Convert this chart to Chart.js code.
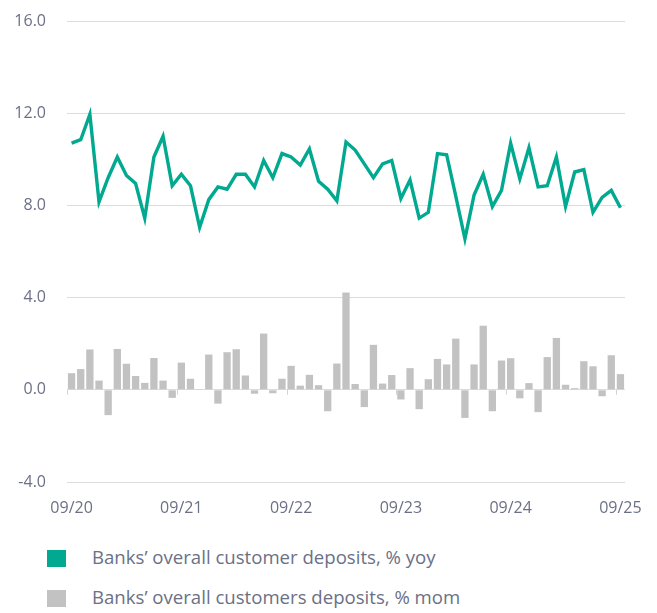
<!DOCTYPE html>
<html>
<head>
<meta charset="utf-8">
<script src="https://cdn.jsdelivr.net/npm/chart.js@4.4.1/dist/chart.umd.min.js"></script>
<style>
  body { margin: 0; background: #fff; font-family: "Open Sans", sans-serif; }
  #wrap { position: relative; width: 657px; height: 613px; }
  #chart { position: absolute; left: 0; top: 0; }
  .leg { position: absolute; left: 47px; height: 20px; color: #6b7086; font-size: 18.6px; line-height: 20px; white-space: nowrap; }
  .leg i { position: absolute; left: 0; top: 1px; width: 19px; height: 17px; }
  .leg span { position: absolute; left: 45px; top: -2px; }
</style>
</head>
<body>
<div id="wrap">
  <canvas id="chart" width="657" height="530"></canvas>
  <div class="leg" style="top:549px"><i style="background:#00a990"></i><span>Banks’ overall customer deposits, % yoy</span></div>
  <div class="leg" style="top:589px"><i style="background:#c2c2c2"></i><span>Banks’ overall customers deposits, % mom</span></div>
</div>
<script>
// months 09/20 .. 09/25
const months = [
    '09/20', '10/20', '11/20', '12/20', '01/21', '02/21', '03/21', '04/21', '05/21', '06/21', '07/21', '08/21',
    '09/21', '10/21', '11/21', '12/21', '01/22', '02/22', '03/22', '04/22', '05/22', '06/22', '07/22', '08/22',
    '09/22', '10/22', '11/22', '12/22', '01/23', '02/23', '03/23', '04/23', '05/23', '06/23', '07/23', '08/23',
    '09/23', '10/23', '11/23', '12/23', '01/24', '02/24', '03/24', '04/24', '05/24', '06/24', '07/24', '08/24',
    '09/24', '10/24', '11/24', '12/24', '01/25', '02/25', '03/25', '04/25', '05/25', '06/25', '07/25', '08/25',
    '09/25'
];

// % yoy
const depositsYoy = [
    10.7, 10.85, 11.95, 8.15, 9.2, 10.1, 9.3, 8.95, 7.45, 10.1, 11.0, 8.85,
    9.35, 8.85, 7.05, 8.25, 8.8, 8.7, 9.35, 9.35, 8.8, 9.95, 9.2, 10.25,
    10.1, 9.75, 10.45, 9.05, 8.7, 8.2, 10.75, 10.4, 9.8, 9.2, 9.8, 9.95,
    8.3, 9.1, 7.45, 7.7, 10.25, 10.2, 8.4, 6.55, 8.45, 9.35, 7.95, 8.65,
    10.7, 9.15, 10.5, 8.8, 8.85, 10.1, 7.95, 9.45, 9.55, 7.7, 8.35, 8.65,
    7.9
];

// % mom
const depositsMom = [
    0.72, 0.9, 1.75, 0.4, -1.1, 1.77, 1.13, 0.6, 0.3, 1.38, 0.4, -0.35,
    1.18, 0.48, 0.03, 1.53, -0.6, 1.63, 1.76, 0.62, -0.17, 2.44, -0.15, 0.48,
    1.04, 0.18, 0.65, 0.2, -0.93, 1.14, 4.22, 0.25, -0.75, 1.95, 0.27, 0.64,
    -0.42, 0.94, -0.84, 0.46, 1.34, 1.1, 2.22, -1.22, 1.1, 2.78, -0.93, 1.27,
    1.37, -0.37, 0.29, -0.97, 1.42, 2.25, 0.22, 0.07, 1.24, 1.02, -0.28, 1.5,
    0.68
];

const yTicks = [-4, 0, 4, 8, 12, 16];

const textColor = '#6b7086';

// little tick marks on the zero line, one per year
const zeroTicks = {
    id: 'zeroTicks',
    beforeDatasetsDraw(chart) {
        const x = chart.scales.x;
        const y0 = chart.scales.y.getPixelForValue(0);
        const half = (x.getPixelForValue(1) - x.getPixelForValue(0)) / 2;
        const c = chart.ctx;
        c.save();
        c.strokeStyle = '#d4d4d4';
        c.lineWidth = 1;
        for (let i = 0; i < months.length; i += 12) {
            const px = Math.round(x.getPixelForValue(i) - half) + 0.5;
            c.beginPath();
            c.moveTo(px, y0);
            c.lineTo(px, y0 + 5);
            c.stroke();
        }
        c.restore();
    }
};

new Chart(document.getElementById('chart'), {
    type: 'bar',
    data: {
        labels: months,
        datasets: [{
            type: 'line',
            label: 'Banks’ overall customer deposits, % yoy',
            data: depositsYoy,
            borderColor: '#00a990',
            borderWidth: 3.4,
            pointRadius: 0,
            tension: 0,
            order: 1
        }, {
            label: 'Banks’ overall customers deposits, % mom',
            data: depositsMom,
            backgroundColor: '#c2c2c2',
            barPercentage: 0.8,
            categoryPercentage: 1,
            order: 2
        }]
    },
    options: {
        responsive: false,
        animation: false,
        layout: { padding: { top: 21, right: 32, left: 0, bottom: 0 } },
        plugins: { legend: { display: false }, tooltip: { enabled: false } },
        scales: {
            x: {
                grid: { display: false },
                border: { display: false },
                afterFit: (s) => { s.height = 48; },
                ticks: {
                    autoSkip: false,
                    maxRotation: 0,
                    padding: 9,
                    color: textColor,
                    font: { family: 'Open Sans', size: 16 },
                    callback: (v, i) => (i % 12 === 0 ? months[i] : '')
                }
            },
            y: {
                min: -4,
                max: 16,
                afterFit: (s) => { s.width = 67; s.paddingTop = 0; s.paddingBottom = 0; },
                afterBuildTicks: (s) => { s.ticks = yTicks.map(v => ({ value: v })); },
                grid: { color: '#dcdcdc', drawTicks: false },
                border: { display: false },
                ticks: {
                    padding: 21,
                    color: textColor,
                    font: { family: 'Open Sans', size: 16 },
                    callback: (v) => v.toFixed(1)
                }
            }
        }
    },
    plugins: [zeroTicks]
});
</script>
</body>
</html>
